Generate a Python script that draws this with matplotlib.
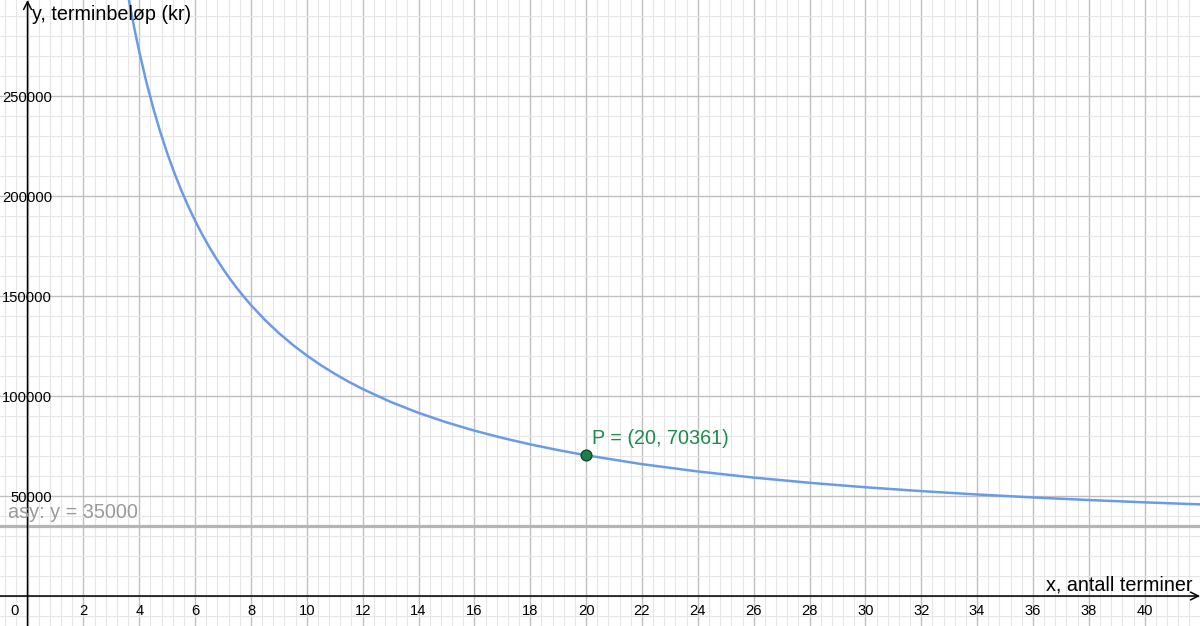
import numpy as np
import matplotlib
matplotlib.use("Agg")
from matplotlib import pyplot as plt
from matplotlib.ticker import MultipleLocator

plt.rcParams['font.family'] = ['Liberation Sans', 'DejaVu Sans']

# terminbeløp (x = antall terminer)
x_vals = [3.6, 3.7, 3.8, 3.9, 4, 4.25, 4.5, 4.75, 5, 5.25, 5.5, 5.75, 6,
          6.25, 6.5, 6.75, 7, 7.25, 7.5, 7.75, 8, 8.5, 9, 9.5, 10, 10.5,
          11, 11.5, 12, 13, 14, 15, 16, 17, 18, 19, 20, 22, 24, 26, 28, 30,
          32, 34, 36, 38, 40, 42]
y_vals = [300480, 292845, 285620, 278765, 272249, 257315, 244040, 232167,
          221481, 211817, 203034, 195016, 187669, 180910, 174674, 168903,
          163544, 158558, 153904, 149554, 145477, 138046, 131446, 125547,
          120242, 115447, 111092, 107121, 103484, 97061, 91571, 86825,
          82685, 79043, 75817, 72940, 70361, 65932, 62273, 59205, 56603,
          54371, 52441, 50760, 49284, 47982, 46827, 45798]

asy = 35000
P = (20, 70361)
x_ticks = list(range(2, 42, 2))
y_ticks = [50000, 100000, 150000, 200000, 250000]

fig = plt.figure(figsize=(12, 6.26), dpi=100)
ax = fig.add_axes([0, 0, 1, 1])
ax.set_xlim(-0.985, 41.98)
ax.set_ylim(-15000, 298000)
for s in ax.spines.values():
    s.set_visible(False)

ax.xaxis.set_major_locator(MultipleLocator(2))
ax.xaxis.set_minor_locator(MultipleLocator(0.4))
ax.yaxis.set_major_locator(MultipleLocator(50000))
ax.yaxis.set_minor_locator(MultipleLocator(10000))
ax.grid(which='major', color='#c0c0c0', lw=1)
ax.grid(which='minor', color='#e6e6e6', lw=0.8)
ax.tick_params(which='both', length=0, labelbottom=False, labelleft=False)
ax.set_axisbelow(True)

# axes with arrows
ax.annotate('', xy=(41.98, 0), xytext=(-0.985, 0),
            arrowprops=dict(arrowstyle='->', color='black', lw=1.1,
                            shrinkA=0, shrinkB=0, mutation_scale=14))
ax.annotate('', xy=(0, 298000), xytext=(0, -15000),
            arrowprops=dict(arrowstyle='->', color='black', lw=1.1,
                            shrinkA=0, shrinkB=0, mutation_scale=14))

for t in x_ticks:
    ax.text(t, -9500, str(t), ha='center', va='baseline', fontsize=10.6)
ax.text(-0.45, -9500, '0', ha='center', va='baseline', fontsize=10.6)
for t in y_ticks:
    ax.text(0.88, t - 2800, str(t), ha='right', va='baseline', fontsize=10.6)

ax.text(0.17, 290500, 'y, terminbeløp (kr)', ha='left', va='center', fontsize=14.2)
ax.text(41.7, 5500, 'x, antall terminer', ha='right', va='center', fontsize=14.2)

# asymptote
ax.axhline(asy, color='#b5b5b5', lw=2.3)
ax.text(-0.7, 42000, 'asy: y = 35000', ha='left', va='center',
        fontsize=14.3, color='#9a9a9a')

# curve
ax.plot(x_vals, y_vals, color='#6a9be6', lw=1.8, solid_capstyle='round')

# point
ax.scatter([P[0]], [P[1]], s=60, color='#1f7f4c', edgecolor='#0f4a2a',
           lw=1, zorder=5)
ax.text(P[0] + 0.2, 79000, 'P = (20, 70361)', ha='left', va='center',
        fontsize=14.2, color='#1e8a4e')

plt.savefig('out.png', dpi=100)
